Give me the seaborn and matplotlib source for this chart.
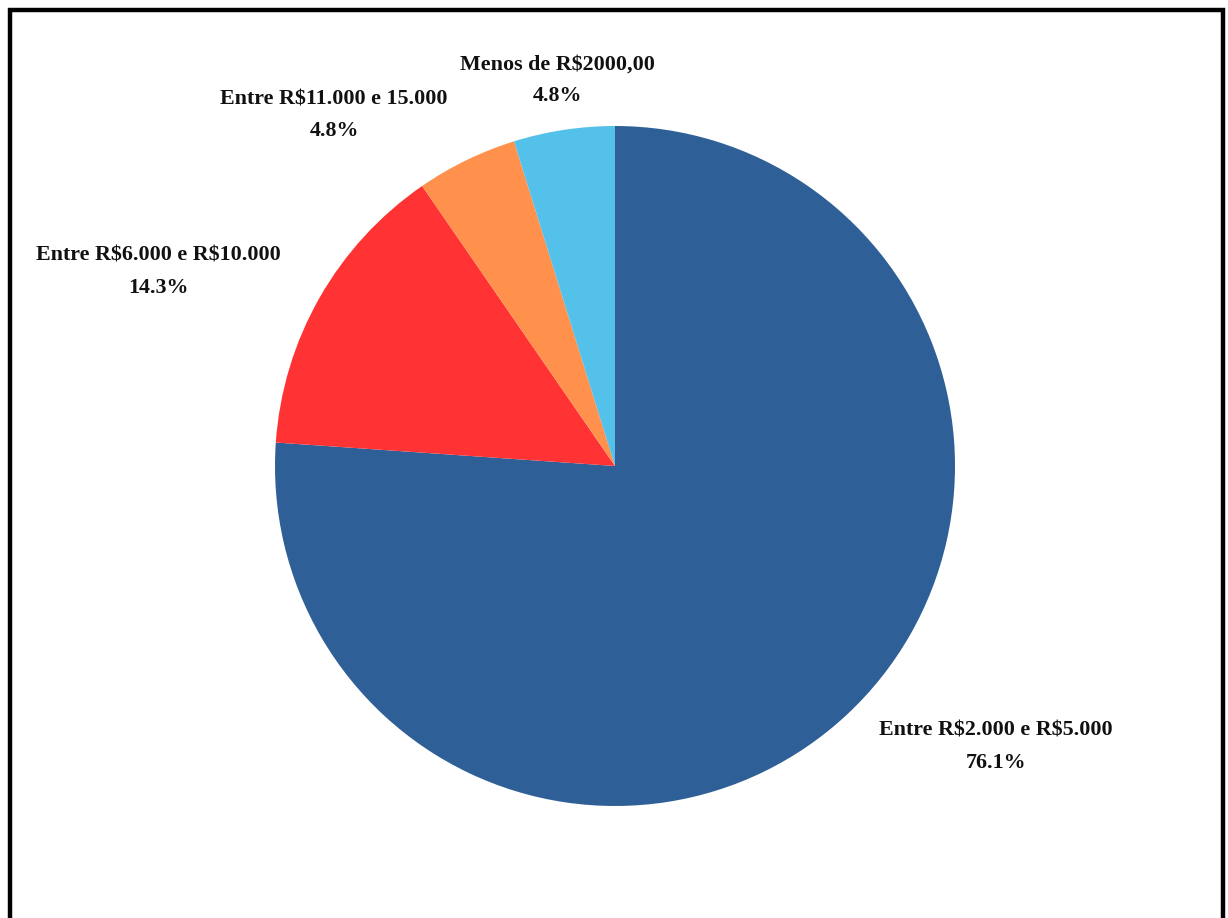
import matplotlib
matplotlib.use("Agg")
import matplotlib.pyplot as plt
import matplotlib.patches as mpatches
import seaborn as sns

# Data
categories = ["Entre R$2.000 e R$5.000", "Entre R$6.000 e R$10.000",
              "Entre R$11.000 e 15.000", "Menos de R$2000,00"]
values = [76.1, 14.3, 4.8, 4.8]
colors = ["#2F5F97", "#FF3333", "#FF914D", "#53C1EA"]

# label placement (layout, in units of the pie radius)
label_pos = [(1.121, -0.826), (-1.344, 0.571), (-0.826, 1.032), (-0.168, 1.135)]

sns.set_theme(style="white")
plt.rcParams["font.family"] = ["Liberation Serif", "DejaVu Serif"]

W, H = 1228, 918
fig = plt.figure(figsize=(W / 100, H / 100), dpi=100)
fig.patch.set_facecolor("white")

cx, cy, r = 615, 466, 340
ax = fig.add_axes([(cx - r) / W, (H - cy - r) / H, 2 * r / W, 2 * r / H])
ax.pie(values, colors=colors, startangle=90, counterclock=False,
       radius=1, wedgeprops=dict(linewidth=0))
ax.set_xlim(-1, 1)
ax.set_ylim(-1, 1)
ax.set_aspect("equal")
ax.axis("off")

for cat, v, (x, y) in zip(categories, values, label_pos):
    ax.text(x, y, f"{cat}\n{v:.1f}%", ha="center", va="center",
            multialignment="center", fontsize=15.8, fontweight="bold",
            color="#111111", linespacing=1.8, parse_math=False)

# outer frame (open at the bottom edge of the image)
border = mpatches.Rectangle((10 / W, -0.05), (1223 - 10) / W, (H - 10) / H + 0.05,
                            transform=fig.transFigure, fill=False,
                            edgecolor="black", linewidth=3.2)
fig.patches.append(border)

fig.savefig("out.png", dpi=100)
